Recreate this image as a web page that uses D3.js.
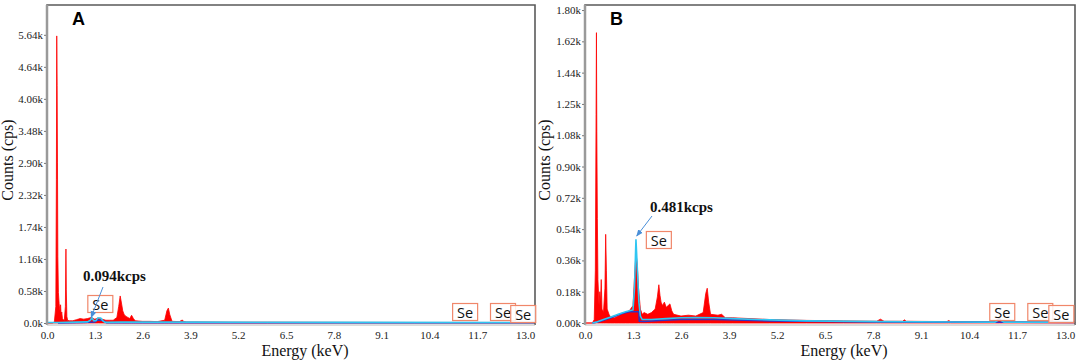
<!DOCTYPE html>
<html>
<head>
<meta charset="utf-8">
<script src="https://cdn.jsdelivr.net/npm/d3@7"></script>
<style>
  body { margin: 0; background: #fff; }
  svg { display: block; }
</style>
</head>
<body>
<svg id="chart" width="1084" height="364"></svg>
<script>
// x ticks (keV), shared by both panels
const xTickValues = [0, 1.3, 2.6, 3.9, 5.2, 6.5, 7.8, 9.1, 10.4, 11.7, 13.0];

// panel A y ticks (kcps) and their printed labels
const yTickValuesA = [0, 0.58, 1.16, 1.74, 2.32, 2.90, 3.48, 4.06, 4.64, 5.22];
const yTickLabelsA = ["0.0k", "0.58k", "1.16k", "1.74k", "2.32k", "2.90k", "3.48k", "4.06k", "4.64k", "5.64k"];

// panel B y ticks
const yTickValuesB = [0, 0.18, 0.36, 0.54, 0.72, 0.90, 1.08, 1.26, 1.44, 1.62, 1.80];
const yTickLabelsB = ["0.00k", "0.18k", "0.36k", "0.54k", "0.72k", "0.90k", "1.08k", "1.25k", "1.44k", "1.62k", "1.80k"];

// panel A spectrum (energy keV, counts kcps)
const energyA = [0, 0.15, 0.2, 0.24, 0.255, 0.265, 0.275, 0.285, 0.295, 0.31, 0.33, 0.35, 0.37, 0.385, 0.4, 0.42, 0.44, 0.47, 0.5, 0.515, 0.525, 0.54, 0.56, 0.6, 0.7, 0.8, 0.9, 1.0, 1.1, 1.2, 1.3, 1.4, 1.5, 1.6, 1.7, 1.8, 1.9, 1.95, 1.99, 2.02, 2.06, 2.1, 2.15, 2.2, 2.25, 2.3, 2.35, 2.4, 2.6, 2.8, 3.0, 3.2, 3.26, 3.3, 3.34, 3.4, 3.6, 3.68, 3.72, 3.8, 4.0, 5.0, 6.0, 8.0, 10.0, 13.27];
const countsA = [0, 0, 0.02, 0.3, 2.6, 5.2, 4.3, 2.9, 1.2, 0.55, 0.35, 0.22, 0.33, 0.12, 0.2, 0.08, 0.06, 0.05, 0.3, 1.34, 0.6, 0.12, 0.05, 0.04, 0.04, 0.06, 0.08, 0.07, 0.08, 0.1, 0.07, 0.09, 0.07, 0.05, 0.05, 0.05, 0.1, 0.3, 0.49, 0.38, 0.22, 0.15, 0.12, 0.1, 0.08, 0.14, 0.08, 0.04, 0.03, 0.03, 0.025, 0.05, 0.22, 0.27, 0.15, 0.03, 0.025, 0.055, 0.025, 0.02, 0.02, 0.015, 0.015, 0.012, 0.01, 0.01];

// panel A fitted Se line and Se component
const fitEnergyA = [0, 0.3, 0.8, 1.1, 1.18, 1.22, 1.27, 1.33, 1.38, 1.46, 1.52, 1.58, 2.0, 4.0, 8.0, 13.27];
const fitCountsA = [0.01, 0.01, 0.015, 0.02, 0.05, 0.094, 0.04, 0.04, 0.09, 0.09, 0.04, 0.012, 0.015, 0.015, 0.012, 0.01];
const seEnergyA = [0.3, 1.0, 1.3, 1.36, 1.5, 1.56, 1.62, 3.0, 13.27];
const seCountsA = [0, 0.01, 0.02, 0.05, 0.05, 0.03, 0.005, 0.005, 0.003];

// panel B spectrum
const energyB = [0, 0.2, 0.25, 0.28, 0.3, 0.31, 0.32, 0.335, 0.35, 0.38, 0.4, 0.42, 0.44, 0.46, 0.5, 0.54, 0.56, 0.58, 0.6, 0.65, 0.7, 0.8, 0.9, 1.0, 1.1, 1.2, 1.3, 1.35, 1.38, 1.41, 1.45, 1.5, 1.55, 1.6, 1.7, 1.8, 1.9, 1.96, 2.0, 2.03, 2.06, 2.1, 2.15, 2.2, 2.3, 2.35, 2.4, 2.6, 2.8, 3.0, 3.2, 3.27, 3.31, 3.35, 3.4, 3.6, 3.7, 3.8, 4.0, 5.0, 6.0, 7.0, 7.9, 8.0, 8.1, 8.6, 8.65, 8.7, 9.8, 9.85, 9.9, 11.1, 11.22, 11.3, 13.27];
const countsB = [0, 0, 0.02, 0.3, 1.2, 1.67, 1.1, 0.6, 0.25, 0.1, 0.18, 0.12, 0.25, 0.08, 0.06, 0.2, 0.51, 0.3, 0.08, 0.05, 0.03, 0.03, 0.04, 0.05, 0.06, 0.07, 0.1, 0.3, 0.4, 0.35, 0.2, 0.08, 0.05, 0.06, 0.05, 0.06, 0.08, 0.15, 0.22, 0.16, 0.12, 0.1, 0.12, 0.09, 0.11, 0.07, 0.05, 0.04, 0.045, 0.04, 0.06, 0.17, 0.2, 0.12, 0.05, 0.045, 0.05, 0.03, 0.03, 0.02, 0.015, 0.012, 0.01, 0.022, 0.01, 0.01, 0.018, 0.01, 0.008, 0.014, 0.008, 0.008, 0.03, 0.008, 0.005];

const fitEnergyB = [0.2, 0.3, 0.5, 0.7, 0.9, 1.1, 1.2, 1.3, 1.34, 1.38, 1.42, 1.46, 1.5, 1.55, 1.8, 2.2, 2.6, 3.0, 3.5, 4.0, 5.0, 6.0, 8.0, 10.0, 11.1, 11.22, 11.35, 13.27];
const fitCountsB = [0, 0.005, 0.02, 0.035, 0.05, 0.065, 0.07, 0.075, 0.2, 0.481, 0.3, 0.12, 0.04, 0.02, 0.02, 0.025, 0.03, 0.032, 0.03, 0.025, 0.018, 0.012, 0.008, 0.006, 0.005, 0.02, 0.005, 0.004];
const seEnergyB = [0.2, 0.4, 0.7, 1.0, 1.2, 1.46, 1.47, 1.6, 2.0, 2.6, 3.5, 5.0, 8.0, 13.27];
const seCountsB = [0, 0.008, 0.03, 0.055, 0.065, 0.065, 0.01, 0.008, 0.015, 0.02, 0.02, 0.012, 0.006, 0.003];

// Se marker boxes (energy of box centre)
const seBoxesA = [11.37, 12.4, 12.95];
const seBoxesB = [11.3, 12.33, 12.9];

const svg = d3.select("#chart");
const serif = "'Liberation Serif', 'Times New Roman', serif";

function zip(xs, ys) {
  return xs.map((x, i) => ({ e: x, c: ys[i] }));
}

function drawPanel(opt) {
  const x = d3.scaleLinear().domain([0, 13.27]).range([opt.left, opt.right]);
  const y = d3.scaleLinear().domain([0, opt.yMax]).range([opt.bottom, opt.top]);
  const g = svg.append("g");

  // red spectrum
  const area = d3.area().x(d => x(d.e)).y0(y(0)).y1(d => y(d.c));
  g.append("path")
    .datum(zip(opt.energy, opt.counts))
    .attr("d", area)
    .attr("fill", "#ff0000")
    .attr("stroke", "#ff0000")
    .attr("stroke-width", 0.8);

  // Se component (dark blue)
  const line = d3.line().x(d => x(d.e)).y(d => y(d.c));
  g.append("path")
    .datum(zip(opt.seEnergy, opt.seCounts))
    .attr("d", line)
    .attr("fill", "none")
    .attr("stroke", "#2b35c8")
    .attr("stroke-width", 1.5);

  // fitted line (cyan)
  g.append("path")
    .datum(zip(opt.fitEnergy, opt.fitCounts))
    .attr("d", line)
    .attr("fill", "none")
    .attr("stroke", "#2fc6f2")
    .attr("stroke-width", 1.6);

  // frame
  g.append("path")
    .attr("d", `M${opt.left},${opt.bottom + 2}V${opt.top}H${opt.right}V${opt.bottom + 2}`)
    .attr("fill", "none")
    .attr("stroke", "#5a5a5a")
    .attr("stroke-width", 1.6);
  g.append("line")
    .attr("x1", opt.left).attr("x2", opt.left)
    .attr("y1", opt.top).attr("y2", opt.bottom + 2)
    .attr("stroke", "#9a9a9a").attr("stroke-width", 2.5);
  g.append("line")
    .attr("x1", opt.left).attr("x2", opt.right)
    .attr("y1", opt.bottom + 2).attr("y2", opt.bottom + 2)
    .attr("stroke", "#b8b8b8").attr("stroke-width", 1);

  // y axis
  const yAxis = g.append("g")
    .attr("transform", `translate(${opt.left - 1},0)`)
    .call(d3.axisLeft(y).tickValues(opt.yTicks).tickSize(2).tickPadding(1)
      .tickFormat((d, i) => opt.yLabels[i]));
  yAxis.select(".domain").remove();
  yAxis.selectAll("line").attr("stroke", "#777");
  yAxis.selectAll("text").attr("font-family", serif).attr("font-size", 11).attr("fill", "#222");

  // x axis
  const xAxis = g.append("g")
    .attr("transform", `translate(0,${opt.bottom + 2})`)
    .call(d3.axisBottom(x).tickValues(xTickValues).tickSize(0).tickPadding(6)
      .tickFormat(d3.format(".1f")));
  xAxis.select(".domain").remove();
  xAxis.selectAll("text").attr("font-family", serif).attr("font-size", 11).attr("fill", "#222");

  // axis titles
  g.append("text")
    .attr("x", (opt.left + opt.right) / 2 + 14)
    .attr("y", 356)
    .attr("text-anchor", "middle")
    .attr("font-family", serif)
    .attr("font-size", 16)
    .attr("fill", "#111")
    .text("Energy (keV)");
  g.append("text")
    .attr("transform", `translate(${opt.ylabelX},160) rotate(-90)`)
    .attr("text-anchor", "middle")
    .attr("font-family", serif)
    .attr("font-size", 16)
    .attr("fill", "#111")
    .text("Counts (cps)");

  // panel letter
  g.append("text")
    .attr("x", opt.left + 25)
    .attr("y", 25)
    .attr("font-family", "'Liberation Sans', Arial, sans-serif")
    .attr("font-weight", "bold")
    .attr("font-size", 18)
    .text(opt.letter);

  // Se boxes
  function seBox(cx, cy) {
    g.append("rect")
      .attr("x", cx - 12.5).attr("y", cy - 8.5)
      .attr("width", 25).attr("height", 17)
      .attr("fill", "#fff")
      .attr("fill-opacity", 0.85)
      .attr("stroke", "#f0876a")
      .attr("stroke-width", 1.2);
    g.append("text")
      .attr("x", cx).attr("y", cy + 5.5)
      .attr("text-anchor", "middle")
      .attr("font-family", "'Open Sans', 'DejaVu Sans', sans-serif")
      .attr("font-size", 14.5)
      .attr("fill", "#111")
      .text("Se");
  }
  opt.seBoxes.forEach((e, i) => seBox(x(e), i === 2 ? 314 : 312));

  // peak annotation
  const a = opt.note;
  seBox(x(a.boxE), a.boxY);
  g.append("line")
    .attr("x1", a.arrow[0]).attr("y1", a.arrow[1])
    .attr("x2", x(a.tipE)).attr("y2", y(a.tipC))
    .attr("stroke", "#4a8fd8").attr("stroke-width", 1)
    .attr("marker-end", "url(#arrowhead)");
  g.append("text")
    .attr("x", a.textX).attr("y", a.textY)
    .attr("font-family", serif)
    .attr("font-weight", "bold")
    .attr("font-size", 15)
    .attr("fill", "#111")
    .text(a.text);
}

svg.append("defs").append("marker")
  .attr("id", "arrowhead")
  .attr("viewBox", "0 0 10 10")
  .attr("refX", 9).attr("refY", 5)
  .attr("markerWidth", 7).attr("markerHeight", 7)
  .attr("orient", "auto")
  .append("path").attr("d", "M0,1L10,5L0,9z").attr("fill", "#4a8fd8");

drawPanel({
  letter: "A", left: 47, right: 535, top: 5, bottom: 323, yMax: 5.76,
  yTicks: yTickValuesA, yLabels: yTickLabelsA, ylabelX: 13,
  energy: energyA, counts: countsA,
  fitEnergy: fitEnergyA, fitCounts: fitCountsA,
  seEnergy: seEnergyA, seCounts: seCountsA,
  seBoxes: seBoxesA,
  note: { text: "0.094kcps", textX: 83, textY: 281, arrow: [103, 287], tipE: 1.2, tipC: 0.1, boxE: 1.45, boxY: 304 }
});

drawPanel({
  letter: "B", left: 585, right: 1075, top: 5, bottom: 323, yMax: 1.829,
  yTicks: yTickValuesB, yLabels: yTickLabelsB, ylabelX: 550,
  energy: energyB, counts: countsB,
  fitEnergy: fitEnergyB, fitCounts: fitCountsB,
  seEnergy: seEnergyB, seCounts: seCountsB,
  seBoxes: seBoxesB,
  note: { text: "0.481kcps", textX: 650, textY: 212, arrow: [652, 216], tipE: 1.4, tipC: 0.5, boxE: 2.0, boxY: 240 }
});
</script>
</body>
</html>
